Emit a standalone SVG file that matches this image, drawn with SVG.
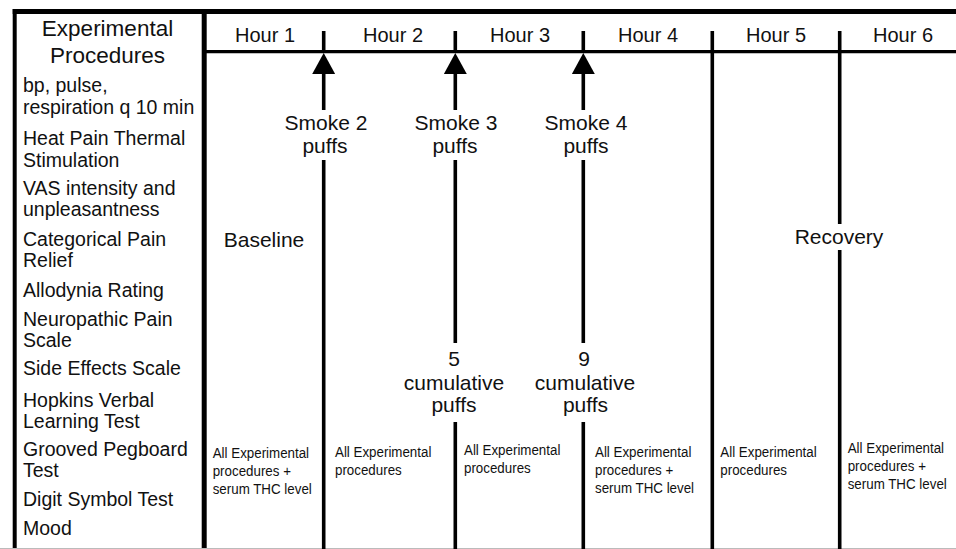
<svg xmlns="http://www.w3.org/2000/svg" width="956" height="549" viewBox="0 0 956 549">
<style>
text{font-family:"Liberation Sans",Arial,sans-serif;fill:#111;}
.hd{font-size:22.5px;text-anchor:middle;}
.it{font-size:19.5px;}
.hr{font-size:20px;text-anchor:middle;}
.lb{font-size:21px;text-anchor:middle;}
.sm{font-size:15px;}
.ln{stroke:#000;stroke-width:3.6;fill:none;}
.bd{stroke:#000;fill:none;}
</style>
<defs>
<marker id="arr" viewBox="0 0 21 23" refX="0" refY="11.5" markerWidth="21" markerHeight="23" markerUnits="userSpaceOnUse" orient="auto">
<path d="M0,0 L21,11.5 L0,23 z" fill="#000"/>
</marker>
</defs>
<rect width="956" height="549" fill="#fff"/>

<g id="frame">
<line class="bd" x1="12.7" y1="11.5" x2="956" y2="11.5" stroke-width="5"/>
<line class="bd" x1="14.7" y1="9" x2="14.7" y2="549" stroke-width="4"/>
<line class="bd" x1="204.2" y1="9" x2="204.2" y2="549" stroke-width="5"/>
<line class="bd" x1="204" y1="51.6" x2="956" y2="51.6" stroke-width="3.2"/>
<line x1="0" y1="548.5" x2="956" y2="548.5" stroke="#bbb" stroke-width="1"/>
</g>

<g id="procedures">
<text class="hd" x="107.5" y="36">Experimental</text>
<text class="hd" x="107.5" y="62.5">Procedures</text>
<text class="it" x="23" y="91.5">bp, pulse,</text>
<text class="it" x="23" y="113.5">respiration q 10 min</text>
<text class="it" x="23" y="145">Heat Pain Thermal</text>
<text class="it" x="23" y="167">Stimulation</text>
<text class="it" x="23" y="195">VAS intensity and</text>
<text class="it" x="23" y="216">unpleasantness</text>
<text class="it" x="23" y="246">Categorical Pain</text>
<text class="it" x="23" y="267">Relief</text>
<text class="it" x="23" y="297">Allodynia Rating</text>
<text class="it" x="23" y="326">Neuropathic Pain</text>
<text class="it" x="23" y="347">Scale</text>
<text class="it" x="23" y="375">Side Effects Scale</text>
<text class="it" x="23" y="406.5">Hopkins Verbal</text>
<text class="it" x="23" y="427.5">Learning Test</text>
<text class="it" x="23" y="456">Grooved Pegboard</text>
<text class="it" x="23" y="477">Test</text>
<text class="it" x="23" y="506">Digit Symbol Test</text>
<text class="it" x="23" y="534.5">Mood</text>
</g>

<g id="hours">
<text class="hr" x="265" y="41.5">Hour 1</text>
<text class="hr" x="393" y="41.5">Hour 2</text>
<text class="hr" x="520" y="41.5">Hour 3</text>
<text class="hr" x="648" y="41.5">Hour 4</text>
<text class="hr" x="776" y="41.5">Hour 5</text>
<text class="hr" x="903" y="41.5">Hour 6</text>
</g>

<g id="connectors">
<line class="ln" x1="323.7" y1="31" x2="323.7" y2="51"/>
<line class="ln" x1="455.3" y1="31" x2="455.3" y2="51"/>
<line class="ln" x1="583.3" y1="31" x2="583.3" y2="51"/>
<line class="ln" x1="712.3" y1="31" x2="712.3" y2="549"/>
<line class="ln" x1="839.7" y1="31" x2="839.7" y2="224"/>
<line class="ln" x1="839.7" y1="250" x2="839.7" y2="549"/>
<path class="ln" d="M323.7,110 V74" marker-end="url(#arr)"/>
<path class="ln" d="M455.3,110 V74" marker-end="url(#arr)"/>
<path class="ln" d="M583.3,110 V74" marker-end="url(#arr)"/>
<line class="ln" x1="323.7" y1="160" x2="323.7" y2="549"/>
<line class="ln" x1="455.3" y1="160" x2="455.3" y2="343"/>
<line class="ln" x1="455.3" y1="422" x2="455.3" y2="549"/>
<line class="ln" x1="583.3" y1="160" x2="583.3" y2="343"/>
<line class="ln" x1="583.3" y1="422" x2="583.3" y2="549"/>
</g>

<g id="smoke2">
<text class="lb" x="326" y="129.5">Smoke 2</text>
<text class="lb" x="325" y="153">puffs</text>
</g>
<g id="smoke3">
<text class="lb" x="456" y="129.5">Smoke 3</text>
<text class="lb" x="455" y="153">puffs</text>
</g>
<g id="smoke4">
<text class="lb" x="586" y="129.5">Smoke 4</text>
<text class="lb" x="586" y="153">puffs</text>
</g>
<g id="baseline">
<text class="lb" x="264" y="246.5">Baseline</text>
</g>
<g id="recovery">
<text class="lb" x="839" y="244">Recovery</text>
</g>
<g id="cum5">
<text class="lb" x="454" y="366">5</text>
<text class="lb" x="454" y="390">cumulative</text>
<text class="lb" x="454" y="411.5">puffs</text>
</g>
<g id="cum9">
<text class="lb" x="584" y="366">9</text>
<text class="lb" x="585" y="390">cumulative</text>
<text class="lb" x="585.5" y="411.5">puffs</text>
</g>

<g id="proc1" transform="translate(212.7,0) scale(0.89,1)">
<text class="sm" x="0" y="458">All Experimental</text>
<text class="sm" x="0" y="476">procedures +</text>
<text class="sm" x="0" y="494">serum THC level</text>
</g>
<g id="proc2" transform="translate(335,0) scale(0.89,1)">
<text class="sm" x="0" y="457">All Experimental</text>
<text class="sm" x="0" y="475">procedures</text>
</g>
<g id="proc3" transform="translate(464,0) scale(0.89,1)">
<text class="sm" x="0" y="455.5">All Experimental</text>
<text class="sm" x="0" y="473.5">procedures</text>
</g>
<g id="proc4" transform="translate(595,0) scale(0.89,1)">
<text class="sm" x="0" y="457">All Experimental</text>
<text class="sm" x="0" y="475">procedures +</text>
<text class="sm" x="0" y="493">serum THC level</text>
</g>
<g id="proc5" transform="translate(720.3,0) scale(0.89,1)">
<text class="sm" x="0" y="457.5">All Experimental</text>
<text class="sm" x="0" y="475.5">procedures</text>
</g>
<g id="proc6" transform="translate(847.7,0) scale(0.89,1)">
<text class="sm" x="0" y="453.5">All Experimental</text>
<text class="sm" x="0" y="471.5">procedures +</text>
<text class="sm" x="0" y="489.5">serum THC level</text>
</g>
</svg>
